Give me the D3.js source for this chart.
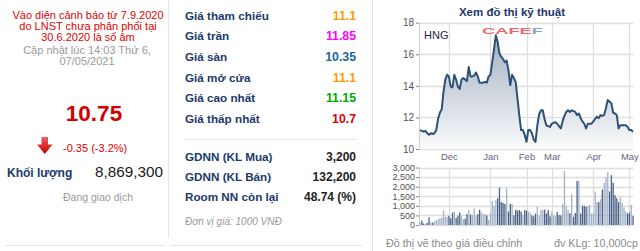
<!DOCTYPE html>
<html>
<head>
<meta charset="utf-8">
<script src="https://cdn.jsdelivr.net/npm/d3@7"></script>
<style>
  body { margin: 0; background: #fff; }
  svg text { font-family: "Liberation Sans", Arial, sans-serif; }
</style>
</head>
<body>
<div id="chart"></div>
<script>
// quote box
const warnLines = ['Vào diện cảnh báo từ 7.9.2020', 'do LNST chưa phân phối tại', '30.6.2020 là số âm'];
const updateLines = ['Cập nhật lúc 14:03 Thứ 6,', '07/05/2021'];
const lastPrice = '10.75';
const change = '-0.35 (-3.2%)';
const volume = '8,869,300';

const priceLabels = ['Giá tham chiếu', 'Giá trần', 'Giá sàn', 'Giá mở cửa', 'Giá cao nhất', 'Giá thấp nhất'];
const priceValues = ['11.1', '11.85', '10.35', '11.1', '11.15', '10.7'];
const priceColors = ['#ff9900', '#ff00ff', '#15679b', '#ff9900', '#00a800', '#e00000'];

const foreignLabels = ['GDNN (KL Mua)', 'GDNN (KL Bán)', 'Room NN còn lại'];
const foreignValues = ['3,200', '132,200', '48.74 (%)'];

// chart: one value per trading day, Nov 2020 - May 2021
const months = ['Dec', 'Jan', 'Feb', 'Mar', 'Apr', 'May'];
const monthIdx = [16, 39, 59, 73, 96, 116];
const priceTicks = [10, 12, 14, 16, 18];
const volTicks = [0, 500, 1000, 1500, 2000, 2500, 3000];

const price = [
  11.2, 11.15, 11.1, 11.15, 11.0, 10.9, 11.0, 10.95, 11.0, 11.2,
  11.9, 12.3, 12.5, 13.6, 14.4, 14.7, 14.6, 13.95, 13.9, 14.7,
  14.4, 13.95, 13.8, 14.4, 14.5, 14.4, 14.3, 15.2, 14.6, 14.6,
  14.65, 14.85, 14.6, 14.2, 14.2, 14.2, 14.25, 14.2, 14.6, 14.7,
  15.5, 16.3, 17.2, 16.8, 16.05, 15.85, 15.7, 15.5, 15.6, 15.0,
  14.05, 14.7, 14.5, 14.25, 13.2, 12.15, 11.2, 11.2, 10.9, 10.45,
  11.2, 11.2, 11.0, 10.6, 10.45, 11.5, 12.2, 12.45, 12.45, 11.9,
  11.5, 11.45, 11.4, 11.6, 11.65, 11.7, 11.6, 11.45, 11.3, 11.75,
  12.1, 12.35, 12.45, 12.35, 12.45, 12.4, 12.35, 12.15, 12.25, 11.95,
  11.75, 11.6, 11.3, 11.6, 11.6, 11.6, 11.75, 11.9, 12.05, 11.95,
  12.15, 12.1, 12.15, 12.6, 13.1, 13.0, 12.9, 12.3, 12.25, 12.15,
  11.3, 11.5, 11.5, 11.5, 11.5, 11.4, 11.2, 11.2, 11.1
];
const vol = [
  120, 230, 80, 60, 110, 400, 140, 120, 200, 250,
  300, 350, 380, 760, 430, 420, 480, 350, 650, 700,
  380, 480, 650, 450, 300, 330, 560, 780, 540, 520,
  850, 480, 560, 800, 660, 560, 580, 500, 260, 600,
  1250, 1000, 1300, 1400, 1950, 1200, 1150, 1100, 1900, 700,
  1100, 1100, 500, 800, 750, 780, 700, 500, 780, 750,
  700, 650, 500, 450, 600, 950, 500, 800, 780, 800,
  600, 780, 450, 700, 500, 450, 680, 520, 500, 1100,
  2820, 1000, 780, 620, 1600, 430, 620, 2300, 2300, 600,
  1000, 1000, 950, 1000, 1050, 600, 600, 1750, 1200, 1200,
  1350, 1850, 2200, 2500, 2750, 1750, 2600, 2200, 1550, 1400,
  1200, 1450, 1150, 900, 700, 600, 650, 1050, 480
];

const navy = '#1b3a6b';
const W = 640, H = 251;

const svg = d3.select('#chart').append('svg')
  .attr('width', W).attr('height', H);

// panel separators
const sep = svg.append('g').attr('stroke', '#e6e6e6').attr('stroke-width', 1);
sep.append('line').attr('x1', 168.5).attr('x2', 168.5).attr('y1', 0).attr('y2', 238);
sep.append('line').attr('x1', 372.5).attr('x2', 372.5).attr('y1', 0).attr('y2', H);
sep.append('line').attr('x1', 5).attr('x2', 165).attr('y1', 245.5).attr('y2', 245.5);
sep.append('line').attr('x1', 170).attr('x2', 362).attr('y1', 245.5).attr('y2', 245.5);
sep.append('line').attr('x1', 185).attr('x2', 357).attr('y1', 139.5).attr('y2', 139.5);

// ---- left panel
const left = svg.append('g');
left.selectAll('text.warn').data(warnLines).join('text')
  .attr('class', 'warn')
  .attr('x', 88).attr('y', (d, i) => 18.5 + i * 11.3)
  .attr('text-anchor', 'middle').attr('font-size', 11).attr('fill', '#e00000')
  .text(d => d);
left.selectAll('text.upd').data(updateLines).join('text')
  .attr('class', 'upd')
  .attr('x', 87).attr('y', (d, i) => 54 + i * 11.3)
  .attr('text-anchor', 'middle').attr('font-size', 11).attr('fill', '#9a9a9a')
  .text(d => d);
left.append('text').attr('x', 94).attr('y', 121)
  .attr('text-anchor', 'middle').attr('font-size', 22.5).attr('font-weight', 'bold')
  .attr('fill', '#d40000').text(lastPrice);

const grad = svg.append('defs');
const ag = grad.append('linearGradient').attr('id', 'arrowGrad')
  .attr('x1', 0).attr('y1', 0).attr('x2', 0).attr('y2', 1);
ag.append('stop').attr('offset', '0%').attr('stop-color', '#f06060');
ag.append('stop').attr('offset', '100%').attr('stop-color', '#c80000');
left.append('path')
  .attr('d', 'M41.5,137 L48,137 L48,144.5 L52.5,144.5 L44.75,154 L37,144.5 L41.5,144.5 Z')
  .attr('fill', 'url(#arrowGrad)');
left.append('text').attr('x', 63).attr('y', 151.5)
  .attr('font-size', 11).attr('fill', '#e00000').text(change);
left.append('text').attr('x', 7).attr('y', 176.5)
  .attr('font-size', 12).attr('font-weight', 'bold').attr('fill', navy).text('Khối lượng');
left.append('text').attr('x', 163).attr('y', 177)
  .attr('text-anchor', 'end').attr('font-size', 15.3).attr('fill', '#1a1a1a').text(volume);
left.append('text').attr('x', 98).attr('y', 200.5)
  .attr('text-anchor', 'middle').attr('font-size', 10.5).attr('fill', '#999').text('Đang giao dịch');

// ---- middle panel
const mid = svg.append('g');
const rows = priceLabels.map((l, i) => ({ label: l, value: priceValues[i], color: priceColors[i] }));
const rowY = d3.scalePoint().domain(d3.range(rows.length)).range([19.5, 123]);
mid.selectAll('text.lbl').data(rows).join('text')
  .attr('class', 'lbl').attr('x', 185).attr('y', (d, i) => rowY(i))
  .attr('font-size', 11.7).attr('font-weight', 'bold').attr('fill', navy).text(d => d.label);
mid.selectAll('text.val').data(rows).join('text')
  .attr('class', 'val').attr('x', 356).attr('y', (d, i) => rowY(i))
  .attr('text-anchor', 'end').attr('font-size', 12.3).attr('font-weight', 'bold')
  .attr('fill', d => d.color).text(d => d.value);

const fRows = foreignLabels.map((l, i) => ({ label: l, value: foreignValues[i] }));
const fY = d3.scalePoint().domain(d3.range(fRows.length)).range([160.5, 200.5]);
mid.selectAll('text.flbl').data(fRows).join('text')
  .attr('class', 'flbl').attr('x', 185).attr('y', (d, i) => fY(i))
  .attr('font-size', 11.7).attr('font-weight', 'bold').attr('fill', navy).text(d => d.label);
mid.selectAll('text.fval').data(fRows).join('text')
  .attr('class', 'fval').attr('x', 356).attr('y', (d, i) => fY(i))
  .attr('text-anchor', 'end').attr('font-size', 12).attr('font-weight', 'bold')
  .attr('fill', '#222').text(d => d.value);
mid.append('text').attr('x', 185).attr('y', 225)
  .attr('font-size', 10).attr('font-style', 'italic').attr('fill', '#9a9a9a')
  .text('Đơn vị giá: 1000 VNĐ');

// ---- chart panel
const chart = svg.append('g');
chart.append('text').attr('x', 512).attr('y', 15.5)
  .attr('text-anchor', 'middle').attr('font-size', 11.5).attr('font-weight', 'bold')
  .attr('fill', navy).text('Xem đồ thị kỹ thuật');

const x = d3.scaleLinear().domain([0, price.length - 1]).range([420, 633]);
const plotL = 419, plotR = 633;
const yP = d3.scaleLinear().domain([10, 18]).range([149, 22.7]);
const yV = d3.scaleLinear().domain([0, 3000]).range([225, 167.5]);

const pg = grad.append('linearGradient').attr('id', 'areaGrad')
  .attr('gradientUnits', 'userSpaceOnUse')
  .attr('x1', 0).attr('y1', yP(17.5)).attr('x2', 0).attr('y2', yP(10));
pg.append('stop').attr('offset', '0%').attr('stop-color', '#9fadbf');
pg.append('stop').attr('offset', '100%').attr('stop-color', '#fafbfc');

function grid(g, yScale, ticks) {
  g.append('g').selectAll('line').data(ticks).join('line')
    .attr('x1', plotL).attr('x2', plotR)
    .attr('y1', d => Math.round(yScale(d)) + 0.5).attr('y2', d => Math.round(yScale(d)) + 0.5)
    .attr('stroke', '#dedede').attr('stroke-width', 1.3);
  g.append('g').selectAll('line').data(monthIdx).join('line')
    .attr('x1', d => Math.round(x(d)) + 0.5).attr('x2', d => Math.round(x(d)) + 0.5)
    .attr('y1', yScale.range()[1]).attr('y2', yScale.range()[0])
    .attr('stroke', '#dedede').attr('stroke-width', 1.3);
  g.append('line').attr('x1', plotL + 0.5).attr('x2', plotL + 0.5)
    .attr('y1', yScale.range()[1]).attr('y2', yScale.range()[0])
    .attr('stroke', '#cfcfcf');
}

// price plot
const pgrid = chart.append('g');
grid(pgrid, yP, priceTicks);

chart.append('path').datum(price)
  .attr('fill', 'url(#areaGrad)')
  .attr('d', d3.area().x((d, i) => x(i)).y0(yP(10)).y1(d => yP(d)));
chart.append('path').datum(price)
  .attr('fill', 'none').attr('stroke', '#2e5177').attr('stroke-width', 2)
  .attr('stroke-linejoin', 'round')
  .attr('d', d3.line().x((d, i) => x(i)).y(d => yP(d)));

const yAxisP = d3.axisLeft(yP).tickValues(priceTicks).tickSize(3).tickPadding(2);
chart.append('g').attr('transform', `translate(${plotL},0)`).call(yAxisP)
  .call(g => g.select('.domain').remove())
  .call(g => g.selectAll('line').attr('stroke', '#888'))
  .call(g => g.selectAll('text').attr('font-size', 10).attr('fill', '#555')
    .attr('font-family', '"Liberation Sans", Arial, sans-serif'));

const xAxis = d3.axisBottom(x).tickValues(monthIdx).tickFormat((d, i) => months[i]).tickSize(0).tickPadding(4);
chart.append('g').attr('transform', `translate(0,${yP(10)})`).call(xAxis)
  .call(g => g.select('.domain').remove())
  .call(g => g.selectAll('text').attr('font-size', 9.5).attr('fill', '#6e5f80')
    .attr('font-family', '"DejaVu Sans Mono", monospace'));

chart.append('text').attr('x', 424).attr('y', 38.5)
  .attr('font-size', 11).attr('fill', '#1e2550').text('HNG');

// CAFEF watermark
const logo = chart.append('text').attr('x', 482).attr('y', 33.5)
  .attr('font-size', 9.6).attr('font-weight', 'bold')
  .attr('font-family', '"DejaVu Sans", sans-serif')
  .attr('textLength', 61).attr('lengthAdjust', 'spacingAndGlyphs');
logo.append('tspan').attr('fill', '#ec4b55').attr('fill-opacity', 0.85).text('CAFE');
logo.append('tspan').attr('fill', '#7b94b5').attr('fill-opacity', 0.85).text('F');

// volume plot
const vgrid = chart.append('g');
grid(vgrid, yV, volTicks);

chart.append('g').selectAll('rect').data(vol).join('rect')
  .attr('x', (d, i) => x(i) - 0.6)
  .attr('width', 1.3)
  .attr('y', d => yV(d))
  .attr('height', d => yV(0) - yV(d))
  .attr('fill', (d, i) => (i > 0 && price[i] < price[i - 1]) ? '#4a6287' : '#a3b1c5');

const yAxisV = d3.axisLeft(yV).tickValues(volTicks).tickSize(3).tickPadding(1);
chart.append('g').attr('transform', `translate(${plotL},0)`).call(yAxisV)
  .call(g => g.select('.domain').remove())
  .call(g => g.selectAll('line').attr('stroke', '#888'))
  .call(g => g.selectAll('text').attr('font-size', 9).attr('fill', '#5a5050')
    .attr('font-family', '"Liberation Sans", Arial, sans-serif'));

chart.append('text').attr('x', 386).attr('y', 246.5)
  .attr('font-size', 10.8).attr('fill', '#8a8a8a').text('Đồ thị vẽ theo giá điều chỉnh');
chart.append('text').attr('x', 638).attr('y', 246.5).attr('text-anchor', 'end')
  .attr('font-size', 10.8).attr('fill', '#8a8a8a').text('đv KLg: 10,000cp');
</script>
</body>
</html>
